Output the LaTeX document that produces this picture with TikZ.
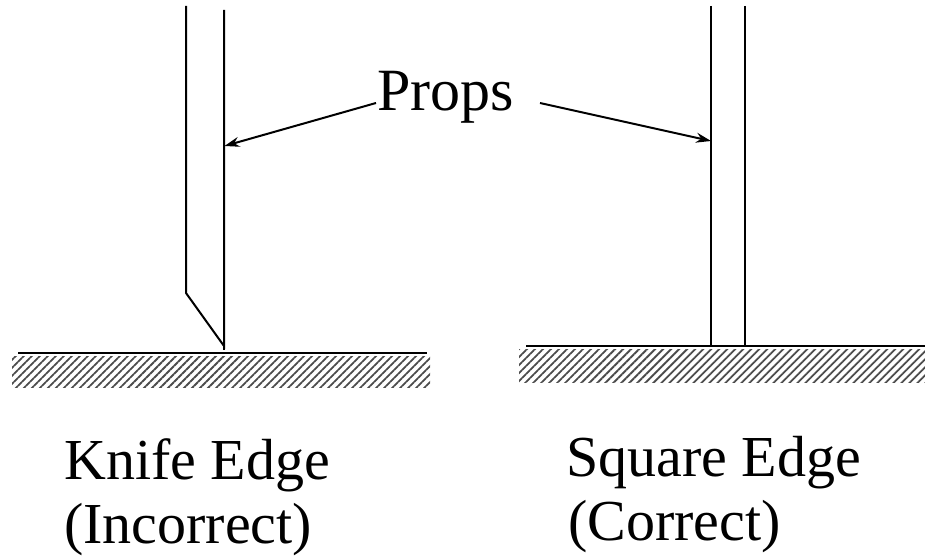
\documentclass[tikz,border=0pt]{standalone}
\usepackage{fontspec}
\setmainfont{Liberation Serif}
\usetikzlibrary{patterns.meta,arrows.meta}
\tikzset{
	label text/.style={inner sep=0pt, anchor=base west, font=\fontsize{58}{60}\selectfont},
	hatch/.style={pattern={Lines[angle=45,distance=5.66pt,line width=1.8pt]}, pattern color=black!70},
	thin line/.style={line width=2pt, line cap=butt, line join=miter},
	prop arrow/.style={thin line, -{Stealth[length=15pt,width=10pt,inset=5pt]}},
}
\begin{document}
\begin{tikzpicture}[x=1pt,y=-1pt]
	\useasboundingbox (0,0) rectangle (925,556);
	% knife edge
	\draw [thin line] (186,6) -- (186,293) -- (224,346) -- (224,10);
	\draw [thin line] (224,346) -- (224,350);
	\draw [thin line] (18,353) -- (427,353);
	\path [hatch] (12,356) rectangle (430,387);
	% square edge
	\draw [thin line] (711,6) -- (711,346);
	\draw [thin line] (745,6) -- (745,346);
	\draw [thin line] (526,346) -- (925,346);
	\path [hatch] (519,349) rectangle (925,382);
	% labels
	\node [label text] (props) at (377,111) {\fontsize{60}{60}\selectfont Props};
	\node [label text] (knife) at (64,479) {Knife Edge};
	\node [label text] (incorrect) at (64,543) {(Incorrect)};
	\node [label text] (square) at (566,476) {Square Edge};
	\node [label text] (correct) at (568,540) {(Correct)};
	% arrows
	\coordinate (leftprop) at (224.5,146);
	\coordinate (rightprop) at (711,141);
	\coordinate (propsleft) at (376,103);
	\coordinate (propsright) at (540,103);
	\draw [prop arrow] (propsleft) -- (leftprop);
	\draw [prop arrow] (propsright) -- (rightprop);
\end{tikzpicture}
\end{document}
